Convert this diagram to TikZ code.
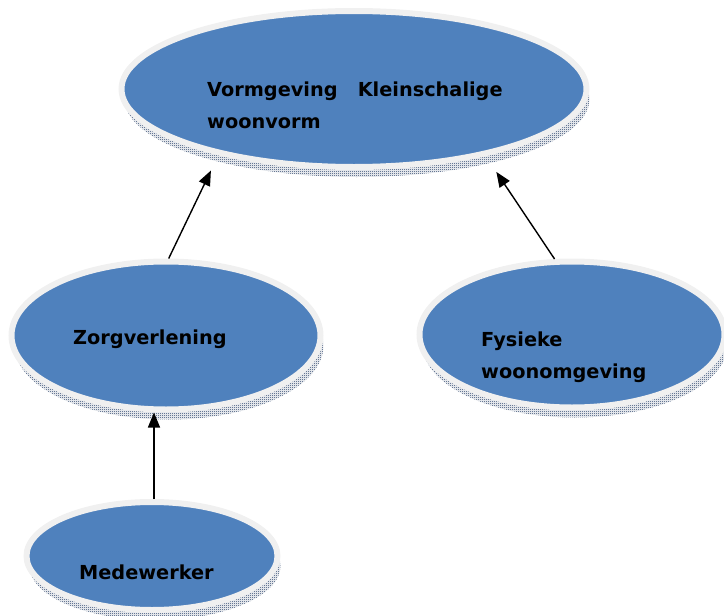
\documentclass[tikz,border=0pt]{standalone}
\usepackage{fontspec}
\setmainfont{DejaVu Sans}
\usepackage{tikz}
\usetikzlibrary{shapes.geometric,shadows,patterns,arrows.meta}
\definecolor{ovalblue}{HTML}{4F81BD}
\definecolor{rim}{HTML}{F0F0F0}
\definecolor{shade}{HTML}{15305A}
\pgfdeclarepatternformonly{checker}{\pgfpointorigin}{\pgfqpoint{2pt}{2pt}}{\pgfqpoint{2pt}{2pt}}{
  \pgfpathrectangle{\pgfpointorigin}{\pgfqpoint{1pt}{1pt}}
  \pgfpathrectangle{\pgfqpoint{1pt}{1pt}}{\pgfqpoint{1pt}{1pt}}
  \pgfusepath{fill}}
\tikzset{
  oval/.style={ellipse, draw=rim, line width=6pt, fill=ovalblue, inner sep=0pt,
    general shadow={shadow xshift=3pt, shadow yshift=-10pt, pattern=checker, pattern color=shade}},
  lab/.style={font=\bfseries\fontsize{19.3}{32}\selectfont, anchor=base west, inner sep=0pt, align=left},
  link/.style={draw=black, line width=1.4pt, -{Triangle[length=15pt,width=12pt]}},
}

\begin{document}
\begin{tikzpicture}[x=1pt,y=-1pt]
  \useasboundingbox (0,0) rectangle (724,616);

  \node[oval, minimum width=465pt, minimum height=156pt] (vorm) at (354,89) {};
  \node[oval, minimum width=309pt, minimum height=148pt] (zorg) at (166,335.5) {};
  \node[oval, minimum width=305pt, minimum height=146pt] (fysiek) at (572,334.5) {};
  \node[oval, minimum width=251pt, minimum height=108pt] (mede) at (152,556) {};

  \node[lab] (vormlab) at (207,128) {Vormgeving\ \ \ Kleinschalige\\woonvorm};
  \node[lab] (zorglab) at (73,344) {Zorgverlening};
  \node[lab] (fysieklab) at (481,378) {Fysieke\\woonomgeving};
  \node[lab] (medelab) at (79,579) {Medewerker};

  \draw[link, shorten >=17pt] (zorg.88) -- (vorm.206);
  \draw[link, shorten >=19pt] (fysiek.103) -- (vorm.333);
  \draw[link] (mede.88) -- (mede.88 |- zorg.south);
\end{tikzpicture}
\end{document}
